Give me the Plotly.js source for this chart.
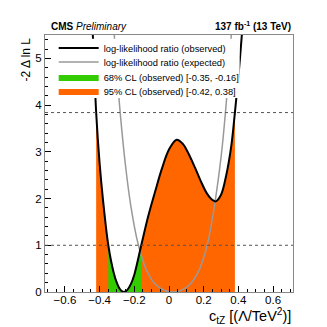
<!DOCTYPE html>
<html>
<head>
<meta charset="utf-8">
<script src="https://cdn.plot.ly/plotly-3.0.1.min.js"></script>
<style>
  html, body { margin: 0; padding: 0; background: #fff; }
  #chart { width: 327px; height: 327px; }
</style>
</head>
<body>
<div id="chart"></div>
<script>
// -2 delta lnL scan in c_tZ
const obsX = [-0.445, -0.43, -0.42, -0.40, -0.38, -0.35, -0.32, -0.30, -0.28, -0.26, -0.24, -0.22, -0.20,
  -0.16, -0.12, -0.08, -0.04, 0.00, 0.044, 0.08, 0.11, 0.15, 0.18, 0.22, 0.25, 0.27, 0.30, 0.33, 0.36,
  0.38, 0.40, 0.42, 0.435];
const obsY = [6.0, 4.7, 3.84, 2.75, 1.95, 1.0, 0.43, 0.19, 0.045, 0.0, 0.045, 0.17, 0.37,
  1.0, 1.62, 2.15, 2.65, 3.05, 3.26, 3.17, 2.98, 2.66, 2.40, 2.10, 1.97, 1.94, 2.08, 2.5, 3.15,
  3.84, 4.6, 5.5, 6.2];

const expX = [-0.335, -0.31, -0.28, -0.25, -0.22, -0.18, -0.13, -0.08, -0.03, 0.02, 0.07, 0.12, 0.17,
  0.22, 0.26, 0.30, 0.33, 0.36, 0.375];
const expY = [6.7, 5.2, 3.78, 2.68, 1.84, 1.06, 0.47, 0.17, 0.04, 0.0, 0.035, 0.16, 0.44,
  1.0, 1.8, 2.88, 4.04, 5.55, 6.45];

const cl68 = [-0.35, -0.16];
const cl95 = [-0.42, 0.38];
const thresholds = [1, 3.84];

const legendNames = [
  'log-likelihood ratio (observed)',
  'log-likelihood ratio (expected)',
  '68% CL (observed) [-0.35, -0.16]',
  '95% CL (observed) [-0.42, 0.38]',
];

const ORANGE = '#ff6600';
const GREEN = '#33cc00';
const FONT = 'Liberation Sans, Arial, Helvetica, sans-serif';

// keep the part of the observed curve inside a CL interval
function band(lo, hi) {
  const x = [], y = [];
  obsX.forEach((v, i) => {
    if (v >= lo && v <= hi) { x.push(v); y.push(obsY[i]); }
  });
  return { x, y };
}

const b95 = band(cl95[0], cl95[1]);
const b68 = band(cl68[0], cl68[1]);

const traces = [
  {
    x: b95.x, y: b95.y, type: 'scatter', mode: 'lines', fill: 'tozeroy',
    fillcolor: ORANGE, line: { width: 0, shape: 'spline', color: ORANGE },
    name: legendNames[3], legend: 'legend4', hoverinfo: 'skip',
  },
  {
    x: b68.x, y: b68.y, type: 'scatter', mode: 'lines', fill: 'tozeroy',
    fillcolor: GREEN, line: { width: 0, shape: 'spline', color: GREEN },
    name: legendNames[2], legend: 'legend3', hoverinfo: 'skip',
  },
  {
    x: expX, y: expY, type: 'scatter', mode: 'lines',
    line: { color: '#999999', width: 1.5, shape: 'spline' },
    name: legendNames[1], legend: 'legend2',
  },
  {
    x: obsX, y: obsY, type: 'scatter', mode: 'lines',
    line: { color: '#000000', width: 2, shape: 'spline' },
    name: legendNames[0], legend: 'legend',
  },
];

// one legend per row so the rows can sit as tight as in the original
function legendAt(y) {
  return {
    x: 0.035, y, xanchor: 'left', yanchor: 'middle',
    bgcolor: 'rgba(0,0,0,0)', borderwidth: 0,
    font: { family: FONT, size: 9.3, color: '#000' },
    itemwidth: 40,
  };
}

const shapes = thresholds.map((t) => ({
  type: 'line', xref: 'paper', x0: 0, x1: 1, yref: 'y', y0: t, y1: t,
  line: { color: '#555555', width: 1, dash: '3px,3px' }, layer: 'above',
}));
// white box behind the legend, hides the curves like the ROOT legend does
shapes.push({
  type: 'rect', xref: 'paper', yref: 'paper', x0: 0.035, x1: 0.785, y0: 0.755, y1: 0.985,
  fillcolor: '#ffffff', line: { width: 0 }, layer: 'above',
});

const axisCommon = {
  ticks: 'inside', ticklen: 6, tickwidth: 1, tickcolor: '#000',
  showline: true, linecolor: '#888', linewidth: 1, mirror: true,
  showgrid: false, zeroline: false,
  tickfont: { family: FONT, size: 11.5, color: '#000' },
};

const layout = {
  width: 327, height: 327,
  margin: { l: 45, r: 34, t: 35, b: 35 },
  paper_bgcolor: '#fff', plot_bgcolor: '#fff',
  showlegend: true,
  xaxis: {
    ...axisCommon, range: [-0.715, 0.715], tick0: 0, dtick: 0.2,
    ticklabelstandoff: -3,
    minor: { dtick: 0.05, ticks: 'inside', ticklen: 3, tickcolor: '#000' },
  },
  yaxis: {
    ...axisCommon, range: [0, 5.5], tick0: 0, dtick: 1,
    minor: { dtick: 0.2, ticks: 'inside', ticklen: 3, tickcolor: '#000' },
  },
  legend: legendAt(0.949),
  legend2: legendAt(0.895),
  legend3: legendAt(0.837),
  legend4: legendAt(0.782),
  shapes,
  annotations: [
    {
      text: '<b>CMS</b> <i>Preliminary</i>', xref: 'paper', yref: 'paper',
      x: 0.016, y: 1.005, xanchor: 'left', yanchor: 'bottom', showarrow: false,
      font: { family: FONT, size: 10, color: '#000' },
    },
    {
      text: '<b>137 fb<sup>-1</sup> (13 TeV)</b>', xref: 'paper', yref: 'paper',
      x: 1, y: 1.005, xanchor: 'right', yanchor: 'bottom', showarrow: false,
      font: { family: FONT, size: 10, color: '#000' },
    },
    {
      text: 'c<sub>tZ</sub> [(Λ/TeV<sup>2</sup>)]', xref: 'paper', yref: 'paper',
      x: 1, y: -0.094, xanchor: 'right', yanchor: 'middle', showarrow: false,
      font: { family: FONT, size: 14.5, color: '#000' },
    },
    {
      text: '-2 Δ ln L', xref: 'paper', yref: 'paper', textangle: -90,
      x: -0.075, y: 1, xanchor: 'center', yanchor: 'top', showarrow: false,
      font: { family: FONT, size: 12, color: '#000' },
    },
  ],
};

Plotly.newPlot('chart', traces, layout, { displayModeBar: false, staticPlot: true });
</script>
</body>
</html>
